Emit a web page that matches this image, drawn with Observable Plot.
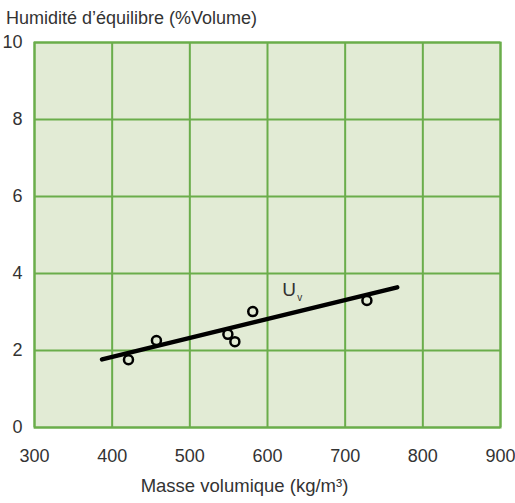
<!DOCTYPE html>
<html><head><meta charset="utf-8">
<script src="https://cdn.jsdelivr.net/npm/d3@7"></script>
<script src="https://cdn.jsdelivr.net/npm/@observablehq/plot@0.6"></script>
<style>
body{margin:0;background:#fff;font-family:"Liberation Sans",Arial,sans-serif;}
#title{height:32px;font-size:18px;color:#333;padding-left:6px;line-height:20px;padding-top:8px;box-sizing:border-box;}
</style></head><body>
<div id="title">Humidité d’équilibre (%Volume)</div>
<div id="chart"></div>
<script>
const densities = [421, 457, 549, 558, 581, 728];
const moistures = [1.76, 2.26, 2.42, 2.23, 3.01, 3.30];
const fitX = [387, 767];
const fitY = [1.77, 3.64];
const xTicks = [300, 400, 500, 600, 700, 800, 900];
const yTicks = [0, 2, 4, 6, 8, 10];
const xLabel = "Masse volumique (kg/m³)";
const labelPos = {x: 619, y: 3.58};

const points = densities.map((d, i) => ({x: d, y: moistures[i]}));
const fit = fitX.map((d, i) => ({x: d, y: fitY[i]}));
const green = "#6aad4b";

const plot = Plot.plot({
  width: 515,
  height: 471,
  marginTop: 10,
  marginBottom: 76,
  marginLeft: 34,
  marginRight: 15,
  style: {fontFamily: "Liberation Sans, Arial, sans-serif", fontSize: "18px", color: "#333", background: "#fff", overflow: "visible"},
  x: {domain: [300, 900], ticks: xTicks, tickSize: 0, tickPadding: 22, label: null},
  y: {domain: [0, 10], ticks: yTicks, tickSize: 0, tickPadding: 12, label: null},
  marks: [
    Plot.frame({fill: "#e2ebd5", stroke: null}),
    Plot.gridX(xTicks, {stroke: green, strokeOpacity: 1, strokeWidth: 2}),
    Plot.gridY(yTicks, {stroke: green, strokeOpacity: 1, strokeWidth: 2}),
    Plot.frame({stroke: green, strokeWidth: 2}),
    Plot.line(fit, {x: "x", y: "y", stroke: "#000", strokeWidth: 4.5}),
    Plot.dot(points, {x: "x", y: "y", r: 4.5, stroke: "#000", strokeWidth: 2.5, fill: "#e2ebd5"}),
    Plot.text([labelPos], {x: "x", y: "y", text: () => "U", textAnchor: "start", fontSize: 19, fill: "#333"}),
    Plot.text([labelPos], {x: "x", y: "y", text: () => "v", textAnchor: "start", fontSize: 10, dx: 15, dy: 8, fill: "#333"}),
    Plot.axisX({ticks: xTicks, tickSize: 0, tickPadding: 22, label: null}),
    Plot.axisY({ticks: yTicks, tickSize: 0, tickPadding: 12, label: null}),
    Plot.text([xLabel], {frameAnchor: "bottom", text: d => d, dx: -23, dy: 64, fontSize: 18.5, fill: "#333"})
  ]
});
document.getElementById("chart").appendChild(plot);
</script>
</body></html>
